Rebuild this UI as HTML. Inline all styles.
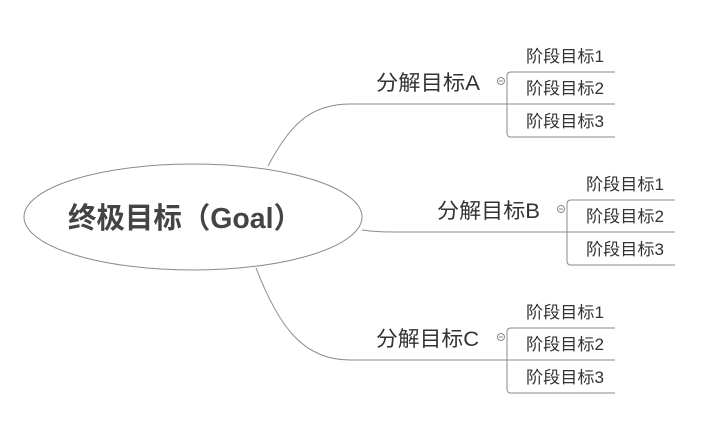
<!DOCTYPE html>
<html><head><meta charset="utf-8"><style>
html,body{margin:0;padding:0;background:#fff;}
text{font-family:"Liberation Sans","Noto Sans CJK SC",sans-serif;fill:#333;}
</style></head><body>
<svg width="720" height="431" viewBox="0 0 720 431" xmlns="http://www.w3.org/2000/svg">
<g fill="none" stroke="#8a8a8a" stroke-width="1">
<ellipse cx="193" cy="217" rx="169" ry="53"/>
<path d="M268 166 C290 125 310 104 350 104 L507 104"/>
<path d="M362 230 C375 232 385 232 400 232 L567 232"/>
<path d="M256 268 C280 330 305 360 350 360 L507 360"/>
<path d="M615 72 L511 72 Q507 72 507 76 L507 133 Q507 137 511 137 L615 137 M507 104 L615 104"/>
<path d="M675 200 L571 200 Q567 200 567 204 L567 261 Q567 265 571 265 L675 265 M567 232 L675 232"/>
<path d="M615 328 L511 328 Q507 328 507 332 L507 389 Q507 393 511 393 L615 393 M507 360 L615 360"/>
<circle cx="501" cy="81" r="3.5"/><circle cx="561" cy="209" r="3.5"/><circle cx="501" cy="337" r="3.5"/>
</g>
<g stroke="#8a8a8a"><line x1="499" y1="81" x2="503" y2="81"/><line x1="559" y1="209" x2="563" y2="209"/><line x1="499" y1="337" x2="503" y2="337"/></g>
<text x="68" y="228" font-size="29" font-weight="bold" textLength="234" lengthAdjust="spacingAndGlyphs" style="fill:#444">终极目标（Goal）</text>
<g font-size="21"><text x="376" y="90" textLength="104" lengthAdjust="spacingAndGlyphs">分解目标A</text><text x="437" y="218" textLength="103" lengthAdjust="spacingAndGlyphs">分解目标B</text><text x="376" y="346" textLength="103" lengthAdjust="spacingAndGlyphs">分解目标C</text></g>
<g font-size="16.5">
<text x="526" y="62" textLength="78" lengthAdjust="spacingAndGlyphs">阶段目标1</text><text x="526" y="94" textLength="78" lengthAdjust="spacingAndGlyphs">阶段目标2</text><text x="526" y="127" textLength="78" lengthAdjust="spacingAndGlyphs">阶段目标3</text>
<text x="586" y="190" textLength="78" lengthAdjust="spacingAndGlyphs">阶段目标1</text><text x="586" y="222" textLength="78" lengthAdjust="spacingAndGlyphs">阶段目标2</text><text x="586" y="255" textLength="78" lengthAdjust="spacingAndGlyphs">阶段目标3</text>
<text x="526" y="318" textLength="78" lengthAdjust="spacingAndGlyphs">阶段目标1</text><text x="526" y="350" textLength="78" lengthAdjust="spacingAndGlyphs">阶段目标2</text><text x="526" y="383" textLength="78" lengthAdjust="spacingAndGlyphs">阶段目标3</text>
</g>
</svg>
</body></html>
